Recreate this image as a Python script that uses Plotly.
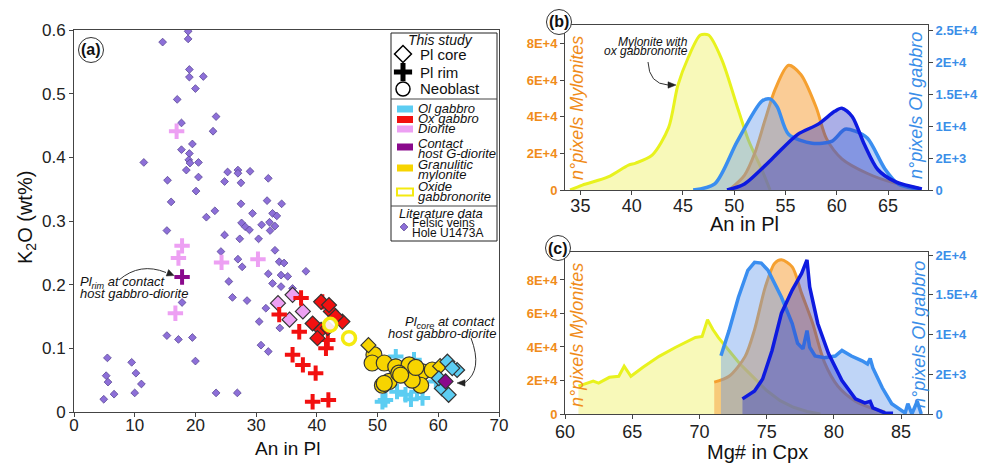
import plotly.graph_objects as go

W, H = 995, 466
FONT = "Liberation Sans, Arial, sans-serif"

# ---------------- Panel (a) data: An in Pl vs K2O (wt%) ----------------
felsic_an = [14.6, 18.8, 18.8, 19.0, 19.0, 21.3, 20.0, 17.0, 23.4, 17.7, 22.9, 19.5, 17.7, 19.0, 18.9, 19.1,
             20.5, 11.5, 18.5, 20.5, 15.4, 20.1, 16.0, 23.2, 21.8, 24.8, 25.3, 27.0, 27.0, 29.0, 27.5, 27.5,
             29.4, 32.0, 31.8, 34.2, 32.7, 33.4, 27.6, 28.2, 28.9, 30.9, 32.2, 33.1, 32.3, 15.3, 24.8, 27.3,
             30.4, 24.2, 27.0, 27.7, 33.1, 33.8, 34.6, 38.2, 32.0, 34.1, 35.2, 25.5, 32.7, 34.1, 36.0, 26.1,
             28.5, 17.8, 31.6, 30.5, 33.9, 30.8, 32.0, 15.3, 17.2, 19.5, 20.0, 5.5, 9.5, 10.2, 5.3, 5.6,
             11.1, 6.6, 10.0, 4.9, 23.4, 26.9]
felsic_k2o = [0.581, 0.598, 0.586, 0.538, 0.526, 0.527, 0.508, 0.491, 0.464, 0.454, 0.441, 0.421, 0.412, 0.406,
              0.396, 0.391, 0.392, 0.392, 0.380, 0.369, 0.364, 0.347, 0.330, 0.316, 0.306, 0.362, 0.377, 0.380,
              0.375, 0.378, 0.360, 0.327, 0.312, 0.367, 0.332, 0.327, 0.312, 0.308, 0.297, 0.291, 0.286, 0.294,
              0.298, 0.292, 0.285, 0.285, 0.278, 0.272, 0.272, 0.252, 0.240, 0.228, 0.254, 0.236, 0.234, 0.221,
              0.217, 0.215, 0.213, 0.205, 0.202, 0.197, 0.194, 0.180, 0.175, 0.172, 0.163, 0.142, 0.132, 0.105,
              0.095, 0.120, 0.114, 0.117, 0.080, 0.085, 0.078, 0.061, 0.057, 0.047, 0.044, 0.028, 0.030, 0.020,
              0.030, 0.030]

diorite_rim_an = [16.9, 17.8, 17.2, 24.3, 30.3, 16.7]
diorite_rim_k2o = [0.441, 0.261, 0.242, 0.235, 0.240, 0.155]
diorite_core_an = [36.0, 33.6, 37.7, 35.5]
diorite_core_k2o = [0.184, 0.171, 0.158, 0.145]

contact_rim_an = [17.8]
contact_rim_k2o = [0.212]
contact_core_an = [61.2]
contact_core_k2o = [0.048]

oxg_rim_an = [37.4, 40.9, 33.8, 37.1, 41.8, 41.5, 36.0, 37.7, 39.8, 39.3, 41.9]
oxg_rim_k2o = [0.179, 0.173, 0.153, 0.126, 0.113, 0.100, 0.090, 0.074, 0.061, 0.016, 0.019]
oxg_core_an = [40.7, 42.3, 44.2, 39.3, 40.7, 40.1, 41.8, 43.1, 42.0]
oxg_core_k2o = [0.173, 0.158, 0.142, 0.139, 0.129, 0.116, 0.132, 0.150, 0.168]

olg_rim_an = [51.3, 53.2, 54.6, 56.5, 57.4, 53.0, 59.6, 50.8, 56.0, 55.5]
olg_rim_k2o = [0.019, 0.032, 0.027, 0.032, 0.022, 0.087, 0.048, 0.016, 0.082, 0.020]
olg_core_an = [61.5, 63.1, 60.6, 61.7, 60.1, 62.3]
olg_core_k2o = [0.079, 0.066, 0.037, 0.027, 0.053, 0.069]

gm_neo_an = [49.4, 49.1, 51.1, 53.0, 54.6, 55.2, 57.4, 59.0, 51.9, 50.8, 53.5, 57.1, 55.7, 53.8, 56.3, 51.1]
gm_neo_k2o = [0.090, 0.077, 0.077, 0.071, 0.061, 0.074, 0.063, 0.066, 0.048, 0.042, 0.061, 0.042, 0.050,
              0.058, 0.070, 0.045]
gm_core_an = [48.5, 60.3]
gm_core_k2o = [0.105, 0.072]

oxgn_neo_an = [42.2, 45.3]
oxgn_neo_k2o = [0.137, 0.116]

a_xticks = [0, 10, 20, 30, 40, 50, 60, 70]
a_yticks = [0, 0.1, 0.2, 0.3, 0.4, 0.5, 0.6]
a_yticktext = ["0", "0.1", "0.2", "0.3", "0.4", "0.5", "0.6"]

# ---------------- Panel (b) data: An in Pl histograms ----------------
b_myl_x = [34.0, 35.2, 37.7, 39.7, 40.4, 42.0, 43.6, 44.5, 45.5, 46.7, 47.5, 48.8, 50.4, 51.4, 52.7, 53.5]
b_myl_y = [0, 2700, 7100, 13600, 14700, 19000, 34000, 57000, 72000, 84500, 84500, 71000, 43600, 27000, 11000, 0]
b_oxm_x = [49.5, 51.0, 52.0, 53.0, 54.0, 55.3, 56.5, 58.0, 59.0, 60.5, 63.0, 65.5, 68.0]
b_oxm_y = [0, 8000, 20000, 38000, 55000, 68000, 63000, 45000, 28000, 17000, 9000, 4000, 1000]
b_olg_x = [46.0, 48.1, 50.3, 52.7, 53.5, 54.2, 55.3, 57.6, 59.5, 60.8, 61.8, 63.0, 64.7, 66.0, 67.9]
b_olg_y = [0, 950, 7600, 13900, 14240, 13000, 8700, 7300, 7600, 9500, 9200, 8100, 3300, 950, 150]
b_olg2_x = [49.3, 51.0, 53.7, 56.2, 58.2, 59.8, 60.5, 61.5, 62.7, 64.0, 65.7, 68.3]
b_olg2_y = [0, 950, 4900, 8700, 10300, 12300, 12800, 11500, 7100, 3200, 1300, 150]

# ---------------- Panel (c) data: Mg# in Cpx histograms ----------------
c_myl_x = [61.0, 62.1, 62.5, 63.3, 64.0, 64.4, 64.9, 65.8, 67.0, 68.2, 69.7, 70.2, 70.6, 71.0, 71.4, 72.0,
           73.0, 74.0, 75.0, 76.0, 77.0, 78.0, 79.0]
c_myl_y = [16600, 19600, 18400, 21900, 22500, 28500, 22500, 27900, 34400, 39700, 45700, 46300, 56300, 50400,
           45700, 40000, 30000, 22000, 14000, 8000, 4000, 1500, 0]
c_oxm_x = [71.1, 72.2, 73.4, 74.1, 74.9, 75.6, 76.1, 76.9, 77.6, 78.4, 79.3, 80.3, 81.6, 83.0, 83.8]
c_oxm_y = [19000, 22500, 34400, 50400, 75900, 90000, 92000, 87800, 72000, 54600, 30800, 16600, 7700, 3000, 1200]
c_olg_x = [71.6, 72.2, 72.9, 73.6, 74.1, 74.6, 75.1, 76.1, 76.9, 77.3, 77.7, 78.0, 78.2, 78.6, 79.3, 80.1,
           80.6, 81.3, 82.1, 82.5, 82.7, 82.9, 83.6, 84.3, 85.3, 85.5, 85.8, 86.2, 86.5]
c_olg_y = [7340, 10500, 14700, 18100, 19100, 19000, 18100, 14700, 11400, 8900, 8200, 10500, 8400, 7300, 7100,
           7300, 8000, 7300, 6700, 6300, 7000, 5800, 3300, 1300, 130, 1300, 0, 1600, 0]
c_olg2_x = [73.2, 74.1, 74.7, 75.4, 76.1, 76.9, 77.6, 77.9, 78.0, 78.2, 78.8, 79.6, 80.6, 81.6, 82.3, 82.7,
            82.9, 83.8, 84.4]
c_olg2_y = [1900, 2900, 4400, 8000, 12700, 15600, 17700, 19100, 19400, 16000, 11400, 7600, 4200, 1900, 1400,
            1600, 760, 130, 100]

left_tickvals = [0, 20000, 40000, 60000, 80000]
left_ticktext = ["0", "2E+4", "4E+4", "6E+4", "8E+4"]
b_right_tickvals = [0, 5000, 10000, 15000, 20000, 25000]
b_right_ticktext = ["0", "2E+3", "1E+4", "1.5E+4", "2E+4", "2.5E+4"]
c_right_tickvals = [0, 5000, 10000, 15000, 20000]
c_right_ticktext = ["0", "2E+3", "1E+4", "1.5E+4", "2E+4"]

# ---------------- colours ----------------
C_FELSIC = "#8d6fd8"
C_PINK = "#eda0f3"
C_PURPLE = "#8a0a8c"
C_RED = "#f21010"
C_CYAN = "#5ccdf2"
C_GOLD = "#f7d400"
C_YEL = "#f4ea10"
C_ORANGE = "#f08c1a"
C_LBLUE = "#3a8ee8"


def px(x):
    return x / W


def py(y):
    return 1 - y / H


fig = go.Figure()


def add_pts(x, y, symbol, size, color, lcolor, lwidth):
    fig.add_trace(go.Scatter(x=x, y=y, mode="markers", xaxis="x", yaxis="y", showlegend=False,
                             hoverinfo="skip",
                             marker=dict(symbol=symbol, size=size, color=color,
                                         line=dict(color=lcolor, width=lwidth))))


add_pts(felsic_an, felsic_k2o, "diamond", 6, C_FELSIC, "#5b4796", 0.8)
add_pts(diorite_rim_an, diorite_rim_k2o, "cross-thin", 11, C_PINK, C_PINK, 4)
add_pts(diorite_core_an, diorite_core_k2o, "diamond", 11.5, C_PINK, "#333333", 1.2)
add_pts(oxg_rim_an, oxg_rim_k2o, "cross-thin", 11, C_RED, C_RED, 4)
add_pts(oxg_core_an, oxg_core_k2o, "diamond", 11.5, C_RED, "#333333", 1.2)
add_pts(olg_rim_an, olg_rim_k2o, "cross-thin", 11, C_CYAN, C_CYAN, 4)
add_pts(gm_neo_an, gm_neo_k2o, "circle", 16, C_GOLD, "#333333", 1.2)
add_pts(gm_core_an, gm_core_k2o, "diamond", 11.5, C_GOLD, "#333333", 1.2)
add_pts(olg_core_an, olg_core_k2o, "diamond", 11.5, C_CYAN, "#333333", 1.2)
add_pts(contact_rim_an, contact_rim_k2o, "cross-thin", 11, C_PURPLE, C_PURPLE, 4)
add_pts(contact_core_an, contact_core_k2o, "diamond", 11.5, C_PURPLE, "#333333", 1.2)
add_pts(oxgn_neo_an, oxgn_neo_k2o, "circle", 13, "rgba(255,255,255,0.9)", C_YEL, 3.5)


def add_curve(x, y, xa, ya, lcolor, fcolor, width, shape):
    fig.add_trace(go.Scatter(x=x, y=y, mode="lines", xaxis=xa, yaxis=ya, fill="tozeroy",
                             fillcolor=fcolor, showlegend=False, hoverinfo="skip",
                             line=dict(color=lcolor, width=width, shape=shape, smoothing=0.8)))


add_curve(b_myl_x, b_myl_y, "x2", "y2", "#e8f21e", "rgba(240,242,100,0.45)", 3, "spline")
add_curve(b_oxm_x, b_oxm_y, "x2", "y2", "#f5a030", "rgba(247,170,80,0.6)", 3, "spline")
add_curve(b_olg_x, b_olg_y, "x2", "y3", "#3a8ef0", "rgba(95,150,235,0.4)", 3.5, "spline")
add_curve(b_olg2_x, b_olg2_y, "x2", "y3", "#0d1ae0", "rgba(45,55,195,0.4)", 3.5, "spline")

add_curve(c_myl_x, c_myl_y, "x3", "y4", "#e8f21e", "rgba(240,242,100,0.45)", 3, "linear")
add_curve(c_oxm_x, c_oxm_y, "x3", "y4", "#f5a030", "rgba(247,170,80,0.6)", 3, "spline")
add_curve(c_olg_x, c_olg_y, "x3", "y5", "#3a8ef0", "rgba(95,150,235,0.4)", 3.5, "linear")
add_curve(c_olg2_x, c_olg2_y, "x3", "y5", "#0d1ae0", "rgba(45,55,195,0.4)", 3.5, "linear")

# ---------------- legend (drawn on a pixel overlay axis) ----------------
leg_sym = dict(
    x=[403, 403, 403, 404],
    y=[54, 72, 89, 227],
    symbol=["diamond", "cross-thin", "circle", "diamond"],
    size=[13, 13, 14, 6],
    color=["white", "black", "white", C_FELSIC],
    lcolor=["black", "black", "black", "#5b4796"],
    lwidth=[1.5, 5, 1.5, 0.8],
)
for i in range(4):
    fig.add_trace(go.Scatter(x=[leg_sym["x"][i]], y=[leg_sym["y"][i]], mode="markers", xaxis="x4",
                             yaxis="y6", showlegend=False, hoverinfo="skip",
                             marker=dict(symbol=leg_sym["symbol"][i], size=leg_sym["size"][i],
                                         color=leg_sym["color"][i],
                                         line=dict(color=leg_sym["lcolor"][i], width=leg_sym["lwidth"][i]))))

shapes = []
annotations = []

# legend box
shapes.append(dict(type="rect", xref="x4", yref="y6", x0=391, x1=497, y0=33, y1=241,
                   line=dict(color="#222", width=1), fillcolor="white", layer="below"))
for yy in [99, 206]:
    shapes.append(dict(type="line", xref="x4", yref="y6", x0=391, x1=497, y0=yy, y1=yy,
                       line=dict(color="#444", width=1)))
swatches = [(109, C_CYAN, C_CYAN), (119.5, C_RED, C_RED), (129, C_PINK, C_PINK),
            (147, C_PURPLE, C_PURPLE), (168, C_GOLD, C_GOLD), (192, "white", C_YEL)]
for yc, fc, lc in swatches:
    shapes.append(dict(type="rect", xref="x4", yref="y6", x0=397, x1=413, y0=yc - 3.5, y1=yc + 3.5,
                       fillcolor=fc, line=dict(color=lc, width=2 if fc == "white" else 0)))


def txt(text, x, y, size, xanchor="left", color="#111", italic=False, bold=False, angle=0, yanchor="middle"):
    t = text
    if italic:
        t = "<i>" + t + "</i>"
    if bold:
        t = "<b>" + t + "</b>"
    annotations.append(dict(text=t, x=px(x), y=py(y), xref="paper", yref="paper", showarrow=False,
                            xanchor=xanchor, yanchor=yanchor, textangle=angle,
                            font=dict(size=size, color=color, family=FONT)))


txt("This study", 440, 40, 14, xanchor="center", italic=True)
txt("Pl core", 418, 54, 15)
txt("Pl rim", 418, 72, 15)
txt("Neoblast", 418, 89, 15)
txt("Ol gabbro", 416, 109, 13, italic=True)
txt("Ox gabbro", 416, 119, 13, italic=True)
txt("Diorite", 416, 129, 13, italic=True)
txt("Contact", 416, 143, 13, italic=True)
txt("host G-diorite", 416, 153, 13, italic=True)
txt("Granulitic", 416, 164, 13, italic=True)
txt("mylonite", 416, 174, 13, italic=True)
txt("Oxide", 416, 186, 13, italic=True)
txt("gabbronorite", 416, 196, 13, italic=True)
txt("Literature data", 441, 214, 13, xanchor="center", italic=True)
txt("Felsic veins", 410, 223, 12)
txt("Hole U1473A", 410, 233, 12)

# axis titles
txt("An in Pl", 287, 448, 19, xanchor="center")
txt("K<sub>2</sub>O (wt%)", 26, 218, 20, xanchor="center", angle=-90)
txt("An in Pl", 744, 224, 20, xanchor="center")
txt("Mg# in Cpx", 757, 452, 20, xanchor="center")
txt("n°pixels Mylonites", 577, 108, 18, xanchor="center", color=C_ORANGE, italic=True, angle=-90)
txt("n°pixels Ol gabbro", 916, 106, 18, xanchor="center", color=C_LBLUE, italic=True, angle=-90)
txt("n°pixels Mylonites", 577, 335, 18, xanchor="center", color=C_ORANGE, italic=True, angle=-90)
txt("n°pixels Ol gabbro", 919, 335, 18, xanchor="center", color=C_LBLUE, italic=True, angle=-90)

# panel labels with circles
for lab, cx, cy in [("(a)", 91, 50), ("(b)", 559, 22), ("(c)", 558, 248)]:
    shapes.append(dict(type="circle", xref="paper", yref="paper", x0=px(cx - 12.5), x1=px(cx + 12.5),
                       y0=py(cy + 12.5), y1=py(cy - 12.5), line=dict(color="#333", width=1),
                       fillcolor="white"))
    txt(lab, cx, cy, 16, xanchor="center", bold=True)

# in-plot notes
txt("Pl<sub>rim</sub> at contact", 78, 282, 13, italic=True)
txt("host gabbro-diorite", 78, 293, 13, italic=True)
txt("Pl<sub>core</sub> at contact", 498, 322, 13, xanchor="right", italic=True)
txt("host gabbro-diorite", 498, 333, 13, xanchor="right", italic=True)
txt("Mylonite with", 690, 42, 12, xanchor="right", italic=True)
txt("ox gabbronorite", 690, 51, 12, xanchor="right", italic=True)

# curved arrows (pixel overlay coordinates) with triangular heads
arrows = [
    ("M 119,280 Q 140,262 166,272.5", "M 174,275.5 L 166.2,276 L 168.6,269.6 Z"),
    ("M 471,338 Q 483,370 465,382.5", "M 457,383 L 465,379.8 L 465,386.2 Z"),
    ("M 648,62 Q 649,84 668,85", "M 676,85 L 668,81.8 L 668,88.2 Z"),
]
for curve, head in arrows:
    shapes.append(dict(type="path", xref="x4", yref="y6", path=curve, line=dict(color="#333", width=1)))
    shapes.append(dict(type="path", xref="x4", yref="y6", path=head, fillcolor="#222",
                       line=dict(color="#222", width=0.5)))

axcommon = dict(showgrid=False, zeroline=False, showline=True, linecolor="#444", linewidth=1,
                ticks="outside", ticklen=4, tickcolor="#444", automargin=False)

fig.update_layout(
    width=W, height=H, margin=dict(l=0, r=0, t=0, b=0, pad=0, autoexpand=False),
    paper_bgcolor="white", plot_bgcolor="rgba(0,0,0,0)",
    font=dict(family=FONT, color="#111"),
    showlegend=False,
    xaxis=dict(domain=[px(74), px(499)], range=[0, 70], tickvals=a_xticks, mirror=True, anchor="y",
               ticklabelstandoff=-6, tickfont=dict(size=17, color="#222"), **axcommon),
    yaxis=dict(domain=[py(412), py(30)], range=[0, 0.6], tickvals=a_yticks, ticktext=a_yticktext,
               mirror=True, anchor="x", tickfont=dict(size=17, color="#222"), **axcommon),
    xaxis2=dict(domain=[px(565), px(928)], range=[33.5, 68.9], tickvals=[35, 40, 45, 50, 55, 60, 65],
                mirror=True, anchor="y2", ticklabelstandoff=-5, tickfont=dict(size=18, color="#222"),
                **axcommon),
    yaxis2=dict(domain=[py(190), py(25)], range=[0, 90000], tickvals=left_tickvals,
                ticktext=["<b>" + t + "</b>" for t in left_ticktext], anchor="x2", side="left",
                tickfont=dict(size=13, color=C_ORANGE), **axcommon),
    yaxis3=dict(range=[0, 25800], overlaying="y2", side="right", anchor="x2", tickvals=b_right_tickvals,
                ticktext=["<b>" + t + "</b>" for t in b_right_ticktext],
                tickfont=dict(size=13, color=C_LBLUE), **axcommon),
    xaxis3=dict(domain=[px(565), px(928)], range=[60, 87], tickvals=[60, 65, 70, 75, 80, 85],
                mirror=True, anchor="y4", ticklabelstandoff=-3, tickfont=dict(size=18, color="#222"),
                **axcommon),
    yaxis4=dict(domain=[py(414), py(252)], range=[0, 96700], tickvals=left_tickvals,
                ticktext=["<b>" + t + "</b>" for t in left_ticktext], anchor="x3", side="left",
                tickfont=dict(size=13, color=C_ORANGE), **axcommon),
    yaxis5=dict(range=[0, 20400], overlaying="y4", side="right", anchor="x3", tickvals=c_right_tickvals,
                ticktext=["<b>" + t + "</b>" for t in c_right_ticktext],
                tickfont=dict(size=13, color=C_LBLUE), **axcommon),
    xaxis4=dict(domain=[0, 1], range=[0, W], visible=False, anchor="y6", fixedrange=True, automargin=False),
    yaxis6=dict(domain=[0, 1], range=[H, 0], visible=False, anchor="x4", fixedrange=True, automargin=False),
    shapes=shapes,
    annotations=annotations,
)

fig.write_html("out.html", config={"displayModeBar": False})

# remove the default page margin so the figure sits at the window origin
with open("out.html", "r", encoding="utf-8") as f:
    html = f.read()
html = html.replace("<body>", '<body style="margin:0;overflow:hidden">', 1)
with open("out.html", "w", encoding="utf-8") as f:
    f.write(html)
